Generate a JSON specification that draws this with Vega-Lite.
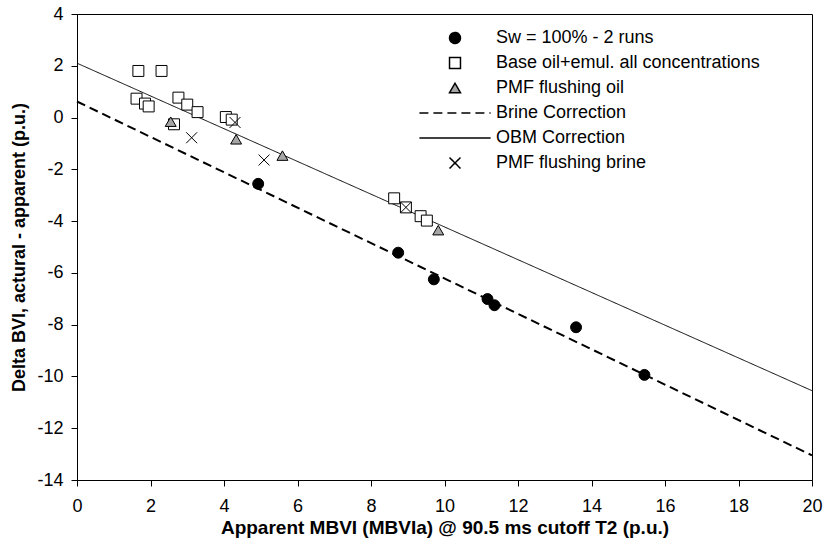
{
  "$schema": "https://vega.github.io/schema/vega-lite/v6.json",
  "width": 735,
  "height": 466,
  "autosize": {"type": "none"},
  "padding": {"left": 77, "top": 14, "right": 17, "bottom": 68},
  "background": "white",
  "config": {
    "font": "Liberation Sans",
    "view": {"stroke": "black", "strokeWidth": 1},
    "axis": {
      "grid": false,
      "domainColor": "black",
      "tickColor": "black",
      "labelColor": "black",
      "titleColor": "black",
      "labelFont": "Liberation Sans",
      "titleFont": "Liberation Sans",
      "labelFontSize": 18,
      "titleFontSize": 18,
      "titleFontWeight": "bold",
      "tickSize": 6,
      "labelFlush": false,
      "labelOverlap": false,
      "labelExpr": "toString(datum.value)"
    },
    "axisX": {"labelPadding": 11, "titlePadding": 3, "titleFontSize": 19},
    "axisY": {"labelPadding": 8, "titlePadding": 8},
    "legend": {
      "orient": "none",
      "legendX": 369,
      "legendY": 15,
      "labelFontSize": 18,
      "labelFont": "Liberation Sans",
      "labelColor": "black",
      "symbolSize": 120,
      "symbolStrokeWidth": 1.5,
      "labelOffset": 32,
      "rowPadding": 7,
      "padding": 0,
      "labelLimit": 400
    }
  },
  "datasets": {
    "points": [
      {"series": "Sw = 100% - 2 runs", "x": 4.93, "y": -2.56},
      {"series": "Sw = 100% - 2 runs", "x": 8.74, "y": -5.22},
      {"series": "Sw = 100% - 2 runs", "x": 9.71, "y": -6.25},
      {"series": "Sw = 100% - 2 runs", "x": 11.17, "y": -7.01},
      {"series": "Sw = 100% - 2 runs", "x": 11.36, "y": -7.25},
      {"series": "Sw = 100% - 2 runs", "x": 13.58, "y": -8.1},
      {"series": "Sw = 100% - 2 runs", "x": 15.44, "y": -9.94},
      {"series": "Base oil+emul. all concentrations", "x": 1.67, "y": 1.8},
      {"series": "Base oil+emul. all concentrations", "x": 2.3, "y": 1.8},
      {"series": "Base oil+emul. all concentrations", "x": 1.62, "y": 0.73},
      {"series": "Base oil+emul. all concentrations", "x": 1.85, "y": 0.54},
      {"series": "Base oil+emul. all concentrations", "x": 1.95, "y": 0.43},
      {"series": "Base oil+emul. all concentrations", "x": 2.76, "y": 0.77},
      {"series": "Base oil+emul. all concentrations", "x": 3.0, "y": 0.5},
      {"series": "Base oil+emul. all concentrations", "x": 3.28, "y": 0.21},
      {"series": "Base oil+emul. all concentrations", "x": 4.05, "y": 0.02},
      {"series": "Base oil+emul. all concentrations", "x": 4.21, "y": -0.08},
      {"series": "Base oil+emul. all concentrations", "x": 2.64, "y": -0.26},
      {"series": "Base oil+emul. all concentrations", "x": 8.63, "y": -3.12},
      {"series": "Base oil+emul. all concentrations", "x": 8.95, "y": -3.47},
      {"series": "Base oil+emul. all concentrations", "x": 9.35, "y": -3.81},
      {"series": "Base oil+emul. all concentrations", "x": 9.52, "y": -3.98},
      {"series": "PMF flushing oil", "x": 2.55, "y": -0.16},
      {"series": "PMF flushing oil", "x": 4.33, "y": -0.84},
      {"series": "PMF flushing oil", "x": 5.59, "y": -1.47},
      {"series": "PMF flushing oil", "x": 9.83, "y": -4.35},
      {"series": "PMF flushing brine", "x": 3.12, "y": -0.78},
      {"series": "PMF flushing brine", "x": 4.3, "y": -0.19},
      {"series": "PMF flushing brine", "x": 5.09, "y": -1.64},
      {"series": "PMF flushing brine", "x": 8.95, "y": -3.47}
    ],
    "lines": [
      {"series": "Brine Correction", "x": 0, "y": 0.62},
      {"series": "Brine Correction", "x": 20, "y": -13.05},
      {"series": "OBM Correction", "x": 0, "y": 2.1},
      {"series": "OBM Correction", "x": 20, "y": -10.55}
    ]
  },
  "layer": [
    {
      "data": {"name": "lines"},
      "transform": [{"filter": "datum.series === 'Brine Correction'"}],
      "mark": {"type": "line", "strokeWidth": 2},
      "encoding": {
        "x": {"field": "x", "type": "quantitative", "scale": {"domain": [0, 20], "nice": false, "zero": false}, "axis": {"values": [0, 2, 4, 6, 8, 10, 12, 14, 16, 18, 20], "title": "Apparent MBVI (MBVIa) @ 90.5 ms cutoff T2 (p.u.)"}},
        "y": {"field": "y", "type": "quantitative", "scale": {"domain": [-14, 4], "nice": false, "zero": false}, "axis": {"values": [-14, -12, -10, -8, -6, -4, -2, 0, 2, 4], "title": "Delta BVI, actural - apparent (p.u.)"}},
        "stroke": {"field": "series", "type": "nominal", "scale": {"domain": ["Sw = 100% - 2 runs", "Base oil+emul. all concentrations", "PMF flushing oil", "Brine Correction", "OBM Correction", "PMF flushing brine"], "range": ["black", "black", "black", "black", "black", "black"]}, "legend": {"title": null}},
        "strokeDash": {"field": "series", "type": "nominal", "scale": {"domain": ["Sw = 100% - 2 runs", "Base oil+emul. all concentrations", "PMF flushing oil", "Brine Correction", "OBM Correction", "PMF flushing brine"], "range": [[1, 0], [1, 0], [1, 0], [9, 5], [1, 0], [1, 0]]}, "legend": {"title": null}}
      }
    },
    {
      "data": {"name": "lines"},
      "transform": [{"filter": "datum.series === 'OBM Correction'"}],
      "mark": {"type": "line", "strokeWidth": 1},
      "encoding": {
        "x": {"field": "x", "type": "quantitative"},
        "y": {"field": "y", "type": "quantitative"},
        "stroke": {"field": "series", "type": "nominal", "legend": {"title": null}},
        "strokeDash": {"field": "series", "type": "nominal", "legend": {"title": null}}
      }
    },
    {
      "data": {"name": "points"},
      "mark": {"type": "point", "opacity": 1, "strokeWidth": 1, "size": 120},
      "encoding": {
        "x": {"field": "x", "type": "quantitative"},
        "y": {"field": "y", "type": "quantitative"},
        "shape": {"field": "series", "type": "nominal", "scale": {"domain": ["Sw = 100% - 2 runs", "Base oil+emul. all concentrations", "PMF flushing oil", "Brine Correction", "OBM Correction", "PMF flushing brine"], "range": ["circle", "square", "triangle-up", "M-6.5,0L6.5,0", "M-6.5,0L6.5,0", "M-1,-1L1,1M1,-1L-1,1"]}, "legend": {"title": null}},
        "fill": {"field": "series", "type": "nominal", "scale": {"domain": ["Sw = 100% - 2 runs", "Base oil+emul. all concentrations", "PMF flushing oil", "Brine Correction", "OBM Correction", "PMF flushing brine"], "range": ["black", "white", "#a6a6a6", "transparent", "transparent", "transparent"]}, "legend": {"title": null}},
        "stroke": {"field": "series", "type": "nominal", "legend": {"title": null}}
      }
    }
  ]
}
